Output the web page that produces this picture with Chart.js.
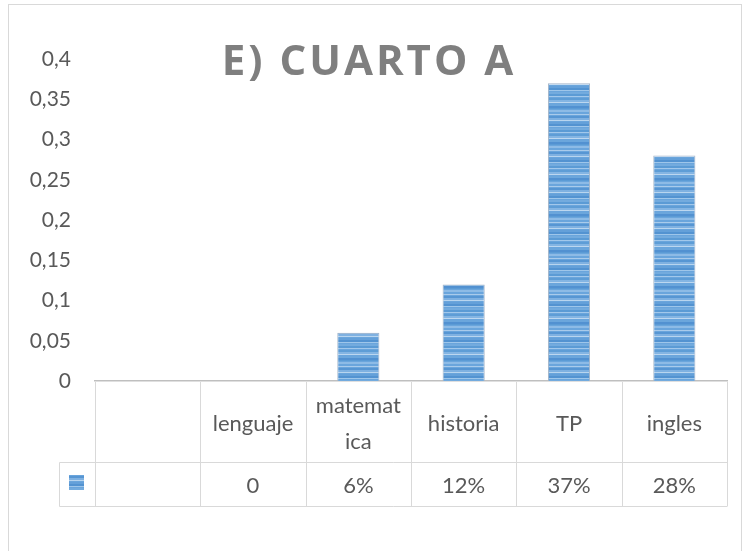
<!DOCTYPE html>
<html>
<head>
<meta charset="utf-8">
<script src="https://cdn.jsdelivr.net/npm/chart.js@4.4.1/dist/chart.umd.min.js"></script>
<style>
  body { margin: 0; background: #fff; }
  #wrap { width: 745px; height: 551px; position: relative; }
</style>
</head>
<body>
<div id="wrap"><canvas id="cuarto"></canvas></div>
<script>
var titulo = 'E) CUARTO A';
var categorias = ['', 'lenguaje', ['matemat', 'ica'], 'historia', 'TP', 'ingles'];
var valores = [null, 0, 0.06, 0.12, 0.37, 0.28];
var yTicks = [0, 0.05, 0.1, 0.15, 0.2, 0.25, 0.3, 0.35, 0.4];

var gris = '#595959';
var linea = '#d9d9d9';
var fuente = 'Lato, "Open Sans", sans-serif';

// striped blue fill, same as the office "horizontal lines" texture
function rayas() {
    var tonos = ['#5b9bd5', '#8dbbe6', '#6aa5dc', '#a9cbeb', '#5796d3', '#7fb1e1',
                 '#b8d5ef', '#64a0d9', '#5393d1', '#9ec6ea', '#73abde', '#5b9bd5',
                 '#a2c8eb', '#5e9dd6', '#84b5e3', '#bcd7f0', '#6ba6dc', '#5291d1'];
    var c = document.createElement('canvas');
    c.width = 8;
    c.height = tonos.length * 2;
    var g = c.getContext('2d');
    tonos.forEach(function (t, i) {
        g.fillStyle = t;
        g.fillRect(0, i * 2, 8, i % 3 == 0 ? 1 : 2);
        if (i % 3 == 0) {
            g.fillStyle = '#6aa5dc';
            g.fillRect(0, i * 2 + 1, 8, 1);
        }
    });
    return g.createPattern(c, 'repeat');
}

function etiquetaValor(v) {
    if (v === null) return '';
    if (v === 0) return '0';
    return Math.round(v * 100) + '%';
}

var marco = {
    id: 'marco',
    beforeDraw: function (chart) {
        var ctx = chart.ctx;
        ctx.save();
        ctx.fillStyle = '#fff';
        ctx.fillRect(0, 0, chart.width, chart.height);
        ctx.strokeStyle = linea;
        ctx.lineWidth = 1;
        ctx.strokeRect(8.5, 4.5, 733, 600);
        ctx.restore();
    }
};

// title sits over the plot area
var encabezado = {
    id: 'encabezado',
    afterDraw: function (chart) {
        var ctx = chart.ctx;
        ctx.save();
        ctx.font = 'bold 42px "Open Sans", sans-serif';
        ctx.letterSpacing = '3px';
        ctx.fillStyle = '#7f7f7f';
        ctx.textAlign = 'center';
        ctx.textBaseline = 'alphabetic';
        ctx.fillText(titulo, 369, 75);
        ctx.restore();
    }
};

// data table under the x axis
var tabla = {
    id: 'tabla',
    afterDraw: function (chart) {
        var ctx = chart.ctx;
        var x = chart.scales.x;
        var area = chart.chartArea;
        var arriba = area.bottom, medio = 462.5, abajo = 506.5, llave = 59.5;
        var mitad = (x.getPixelForValue(1) - x.getPixelForValue(0)) / 2;

        ctx.save();
        ctx.strokeStyle = linea;
        ctx.lineWidth = 1;
        ctx.beginPath();
        for (var i = 0; i <= categorias.length; i++) {
            var bx = Math.round(x.getPixelForValue(i) - mitad) + 0.5;
            ctx.moveTo(bx, arriba + 1);
            ctx.lineTo(bx, abajo);
        }
        ctx.moveTo(llave, medio);
        ctx.lineTo(area.right, medio);
        ctx.moveTo(llave, abajo);
        ctx.lineTo(area.right, abajo);
        ctx.moveTo(llave, medio);
        ctx.lineTo(llave, abajo);
        ctx.stroke();

        // legend key in the first cell
        ctx.fillStyle = rayas();
        ctx.fillRect(69, 475, 15, 15);

        ctx.fillStyle = gris;
        ctx.font = '22px ' + fuente;
        ctx.textAlign = 'center';
        ctx.textBaseline = 'middle';
        categorias.forEach(function (cat, i) {
            var cx = x.getPixelForValue(i);
            var lineas = Array.isArray(cat) ? cat : [cat];
            var y0 = 424 - (lineas.length - 1) * 18;
            lineas.forEach(function (t, j) {
                ctx.fillText(t, cx, y0 + j * 36);
            });
            ctx.fillText(etiquetaValor(valores[i]), cx, 486);
        });
        ctx.restore();
    }
};

const ctx = document.getElementById('cuarto');
const cuarto = new Chart(ctx, {
    type: 'bar',
    data: {
        labels: categorias,
        datasets: [{
            data: valores,
            backgroundColor: rayas(),
            borderColor: '#a3b4c8',
            borderWidth: 1,
            barPercentage: 0.4,
            categoryPercentage: 1
        }]
    },
    options: {
        responsive: true,
        maintainAspectRatio: false,
        animation: false,
        layout: {
            padding: { left: 0, right: 18, top: 59, bottom: 170 }
        },
        plugins: {
            legend: { display: false },
            title: { display: false },
            tooltip: { enabled: false }
        },
        scales: {
            x: {
                grid: { display: false },
                border: { display: true, color: '#bfbfbf', width: 1.5 },
                ticks: { display: false },
                afterFit: function (s) { s.height = 0; }
            },
            y: {
                min: 0,
                max: 0.4,
                grid: { display: false, drawTicks: false },
                border: { display: false },
                afterBuildTicks: function (s) {
                    s.ticks = yTicks.map(function (v) { return { value: v }; });
                },
                afterFit: function (s) { s.width = 95; },
                ticks: {
                    padding: 24,
                    color: gris,
                    font: { family: fuente, size: 21 },
                    callback: function (v) {
                        return String(Math.round(v * 100) / 100).replace('.', ',');
                    }
                }
            }
        }
    },
    plugins: [marco, encabezado, tabla]
});
</script>
</body>
</html>
